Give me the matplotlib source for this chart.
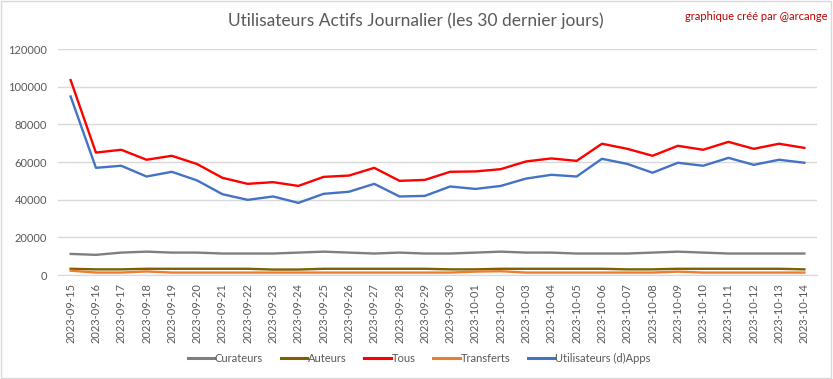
import matplotlib
matplotlib.use("Agg")
import matplotlib.pyplot as plt
from matplotlib.patches import Rectangle

dates = ["2023-09-15","2023-09-16","2023-09-17","2023-09-18","2023-09-19","2023-09-20",
         "2023-09-21","2023-09-22","2023-09-23","2023-09-24","2023-09-25","2023-09-26",
         "2023-09-27","2023-09-28","2023-09-29","2023-09-30","2023-10-01","2023-10-02",
         "2023-10-03","2023-10-04","2023-10-05","2023-10-06","2023-10-07","2023-10-08",
         "2023-10-09","2023-10-10","2023-10-11","2023-10-12","2023-10-13","2023-10-14"]

curateurs = [11200, 10700, 11900, 12400, 11900, 11900, 11400, 11400, 11400, 11900,
             12400, 11900, 11400, 11900, 11400, 11400, 11900, 12400, 11900, 11900,
             11400, 11400, 11400, 11900, 12400, 11900, 11400, 11400, 11400, 11400]
auteurs = [3300, 3000, 3000, 3300, 3300, 3300, 3300, 3300, 2900, 2900,
           3300, 3300, 3300, 3300, 3300, 3000, 3000, 3300, 3300, 3300,
           3300, 3300, 3000, 3000, 3300, 3300, 3300, 3300, 3300, 3000]
tous = [103500, 65000, 66500, 61200, 63300, 58900, 51600, 48400, 49300, 47300,
        52100, 52800, 56900, 50000, 50500, 54800, 55000, 56200, 60300, 61900,
        60600, 69700, 67000, 63300, 68600, 66500, 70700, 67000, 69700, 67500]
transferts = [2300, 1300, 1300, 1900, 1300, 1300, 1300, 1300, 1300, 1300,
              1300, 1300, 1300, 1300, 1300, 1300, 1800, 2000, 1300, 1300,
              1300, 1300, 1300, 1300, 1800, 1300, 1300, 1300, 1300, 1300]
dapps = [94800, 56900, 58000, 52300, 54800, 50200, 42900, 39900, 41700, 38300,
         43100, 44200, 48400, 41700, 42000, 47000, 45700, 47300, 51200, 53200,
         52300, 61700, 59000, 54300, 59600, 58000, 62200, 58500, 61200, 59600]

series = [("Curateurs", curateurs, "#7f7f7f"),
          ("Auteurs", auteurs, "#7f6000"),
          ("Tous", tous, "#ff0000"),
          ("Transferts", transferts, "#ed7d31"),
          ("Utilisateurs (d)Apps", dapps, "#4472c4")]

plt.rcParams['font.family'] = ['Lato', 'DejaVu Sans']
txt = "#595959"

fig = plt.figure(figsize=(8.33, 3.79), dpi=100)
ax = fig.add_axes([0.0696, 0.2744, 0.9112, 0.5963])

x = list(range(len(dates)))
for name, vals, col in series:
    ax.plot(x, vals, color=col, lw=1.7, label=name, solid_joinstyle='round')

ax.set_xlim(-0.5, len(dates) - 0.5)
ax.set_ylim(0, 120000)
ax.set_yticks(range(0, 120001, 20000))
ax.set_xticks(x)
ax.set_xticklabels(dates, rotation=90)
ax.grid(axis='y', color='#d9d9d9', lw=1)
ax.set_axisbelow(True)
for s in ['top', 'right', 'left']:
    ax.spines[s].set_visible(False)
ax.spines['bottom'].set_color('#d9d9d9')
ax.tick_params(axis='both', length=0, colors=txt, labelsize=8)
ax.tick_params(axis='x', pad=6)
ax.tick_params(axis='y', pad=8)

fig.text(0.499, 0.945, "Utilisateurs Actifs Journalier (les 30 dernier jours)",
         ha='center', va='center', fontsize=12.5, color=txt)
fig.text(0.993, 0.957, "graphique créé par @arcange", ha='right', va='center',
         fontsize=8, color='#c00000')

leg = fig.legend(loc='center', bbox_to_anchor=(0.503, 0.055), ncol=5, frameon=False,
                 fontsize=8, labelcolor=txt, handlelength=2.4, handletextpad=0.05,
                 columnspacing=1.6)
for l in leg.get_lines():
    l.set_linewidth(2.2)

fig.patches.append(Rectangle((0.001, 0.002), 0.997, 0.995, transform=fig.transFigure,
                             fill=False, edgecolor='#d9d9d9', lw=1))

fig.savefig("out.png", dpi=100)
